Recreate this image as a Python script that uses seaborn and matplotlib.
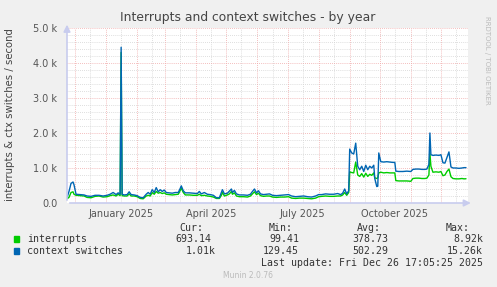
import numpy as np
import pandas as pd
import matplotlib
matplotlib.use("Agg")
import matplotlib.pyplot as plt
import seaborn as sns

# ---------------- data ----------------
start_date = "2024-11-23"
day_offset = [0, 2, 4, 6, 7, 9, 13, 17, 20, 24, 28, 32, 36, 40, 43, 46, 49, 51, 53, 54,
              55, 57, 60, 62, 64, 67, 70, 73, 76, 79, 81, 83, 85, 87, 89, 91, 93, 95, 97,
              99, 102, 105, 108, 111, 113, 114, 116, 118, 122, 126, 130, 132, 134, 137,
              140, 143, 146, 149, 152, 154, 155, 157, 160, 162, 164, 165, 167, 169, 172,
              176, 180, 183, 185, 187, 189, 191, 193, 196, 199, 202, 205, 209, 213, 217,
              221, 224, 228, 232, 236, 240, 244, 248, 251, 254, 258, 262, 266, 270, 273,
              275, 277, 279, 281, 282, 284, 286, 288, 290, 292, 294, 296, 298, 300, 302,
              304, 306, 307, 309, 310, 311, 313, 316, 319, 322, 325, 327, 328, 331, 335,
              339, 343, 345, 348, 351, 354, 357, 359, 361, 362, 363, 365, 368, 371, 373,
              375, 377, 379, 381, 383, 385, 388, 391, 394, 396, 398]
interrupts = [120, 160, 300, 320, 250, 220, 210, 200, 160, 150, 190, 200, 170, 180, 210,
              230, 200, 250, 210, 4300, 210, 200, 200, 260, 200, 200, 180, 130, 120, 200,
              220, 200, 300, 250, 330, 280, 300, 270, 290, 250, 240, 230, 240, 250, 360,
              430, 300, 230, 230, 220, 220, 250, 210, 220, 200, 190, 170, 130, 130, 220,
              300, 200, 230, 260, 330, 250, 290, 200, 180, 180, 170, 200, 260, 320, 240,
              280, 210, 190, 200, 200, 170, 160, 170, 170, 180, 140, 130, 140, 140, 130,
              120, 140, 180, 190, 200, 190, 190, 200, 200, 230, 300, 220, 300, 890, 870,
              860, 1170, 800, 760, 840, 740, 850, 760, 820, 790, 860, 720, 700, 720, 860,
              880, 860, 870, 860, 860, 860, 640, 630, 630, 630, 620, 700, 710, 710, 700,
              700, 710, 800, 1430, 1050, 880, 890, 880, 900, 780, 800, 900, 970, 750, 700,
              690, 690, 700, 690, 693]
context_switches = [150, 330, 560, 600, 520, 250, 240, 230, 200, 190, 220, 220, 200, 220,
                    250, 300, 240, 290, 250, 4450, 250, 230, 240, 320, 240, 230, 210, 160,
                    150, 250, 300, 250, 380, 300, 440, 320, 380, 330, 370, 300, 290, 280,
                    300, 300, 420, 490, 350, 290, 290, 280, 270, 330, 260, 300, 250, 240,
                    220, 150, 150, 300, 380, 260, 280, 340, 400, 300, 360, 260, 230, 230,
                    220, 250, 330, 400, 290, 350, 260, 240, 250, 260, 220, 210, 220, 230,
                    240, 200, 180, 190, 200, 180, 170, 200, 240, 240, 260, 250, 250, 270,
                    240, 280, 400, 260, 350, 1540, 1430, 1400, 1710, 1050, 950, 1050, 900,
                    1080, 950, 1050, 1000, 1080, 700, 470, 480, 1430, 1180, 1170, 1180,
                    1170, 1160, 1160, 910, 900, 900, 910, 900, 960, 970, 970, 960, 960, 970,
                    1100, 2000, 1380, 1360, 1370, 1360, 1380, 1150, 1140, 1300, 1460, 1030,
                    1000, 1000, 990, 1000, 1010, 1010]
series_names = ["interrupts", "context switches"]
series_colors = ["#00CC00", "#0066B3"]
x_label_dates = ["2025-01-16", "2025-04-16", "2025-07-16", "2025-10-16"]
x_labels = ["January 2025", "April 2025", "July 2025", "October 2025"]
y_ticks = [0, 1000, 2000, 3000, 4000, 5000]
y_labels = ["0.0", "1.0 k", "2.0 k", "3.0 k", "4.0 k", "5.0 k"]
stats_cur = ["693.14", "1.01k"]
stats_min = ["99.41", "129.45"]
stats_avg = ["378.73", "502.29"]
stats_max = ["8.92k", "15.26k"]

# ---------------- figure ----------------
W, H = 497, 287
sns.set_style("white")
plt.rcParams["font.family"] = ["DejaVu Sans"]
fig = plt.figure(figsize=(W / 100, H / 100), dpi=100, facecolor="#F0F0F0")
L, R, T, B = 67, 468, 28, 203
ax = fig.add_axes([L / W, 1 - B / H, (R - L) / W, (B - T) / H])
ax.set_facecolor("white")

dates = pd.to_datetime(start_date) + pd.to_timedelta(day_offset, unit="D")
df = pd.concat([
    pd.DataFrame({"date": dates, "value": interrupts, "series": series_names[0]}),
    pd.DataFrame({"date": dates, "value": context_switches, "series": series_names[1]}),
])
x0 = pd.Timestamp("2024-11-23")
x1 = pd.Timestamp("2025-12-28")

# grid
for m in pd.date_range("2024-11-16", "2025-12-31", freq="MS") + pd.Timedelta(days=15):
    if x0 < m < x1:
        ax.axvline(m, color="#D4D4D4", lw=0.6, ls=(0, (1, 1.5)), zorder=0)
for yv in range(200, 5001, 200):
    if yv % 1000:
        ax.axhline(yv, color="#D4D4D4", lw=0.6, ls=(0, (1, 1.5)), zorder=0)
for m in pd.date_range("2024-12-01", "2025-12-31", freq="MS"):
    if x0 < m < x1:
        ax.axvline(m, color="#F0A8A8", lw=0.6, ls=(0, (1, 1.5)), zorder=0.5)
for yv in range(1000, 5001, 1000):
    ax.axhline(yv, color="#F0A8A8", lw=0.6, ls=(0, (1, 1.5)), zorder=0.5)

sns.lineplot(data=df, x="date", y="value", hue="series", palette=series_colors,
             hue_order=series_names, ax=ax, lw=1.0, legend=False, estimator=None, zorder=3)

ax.set_xlim(x0, x1)
ax.set_ylim(0, 5000)
for s in ax.spines.values():
    s.set_visible(False)
ax.set_yticks(y_ticks, y_labels)
ax.set_xticks(pd.to_datetime(x_label_dates), x_labels)
ax.tick_params(axis="both", length=0, labelsize=7, colors="#555555")
ax.tick_params(axis="y", pad=7)
ax.tick_params(axis="x", pad=4)
ax.set_xlabel("")
ax.set_ylabel("")

# axes arrows
axc = "#C8CCEE"
ax.annotate("", xy=(0, 1.035), xytext=(0, -0.0), xycoords="axes fraction",
            arrowprops=dict(arrowstyle="-|>,head_length=0.4,head_width=0.2", color=axc, lw=1.2),
            annotation_clip=False)
ax.annotate("", xy=(1.014, 0), xytext=(0, 0), xycoords="axes fraction",
            arrowprops=dict(arrowstyle="-|>,head_length=0.4,head_width=0.2", color=axc, lw=1.2),
            annotation_clip=False)

def ftext(x, y, s, **kw):
    fig.text(x / W, 1 - y / H, s, **kw)

ftext(248, 18, "Interrupts and context switches - by year", ha="center", va="center",
      fontsize=8.9, color="#444444")
ftext(10, 115, "interrupts & ctx switches / second", ha="center", va="center",
      rotation=90, fontsize=7.3, color="#444444")
ftext(487, 16, "RRDTOOL / TOBI OETIKER", ha="center", va="top", rotation=270,
      fontsize=5, color="#BBBBBB")

mono = dict(family="DejaVu Sans Mono", fontsize=7.1, color="#333333", va="center")
ftext(203, 228, "Cur:", ha="right", **mono)
ftext(293, 228, "Min:", ha="right", **mono)
ftext(381, 228, "Avg:", ha="right", **mono)
ftext(470, 228, "Max:", ha="right", **mono)
rows = [239, 251]
cur_right = [211, 216]
for i, name in enumerate(series_names):
    y = rows[i]
    fig.patches.append(plt.Rectangle((14 / W, 1 - (y + 3) / H), 5 / W, 6 / H,
                                     transform=fig.transFigure, color=series_colors[i]))
    ftext(27, y, name, ha="left", **mono)
    ftext(cur_right[i], y, stats_cur[i], ha="right", **mono)
    ftext(299, y, stats_min[i], ha="right", **mono)
    ftext(388, y, stats_avg[i], ha="right", **mono)
    ftext(483, y, stats_max[i], ha="right", **mono)
ftext(483, 263, "Last update: Fri Dec 26 17:05:25 2025", ha="right", **mono)
ftext(248, 276, "Munin 2.0.76", ha="center", va="center", fontsize=5.5, color="#BBBBBB")

fig.savefig("out.png", dpi=100, facecolor=fig.get_facecolor())
